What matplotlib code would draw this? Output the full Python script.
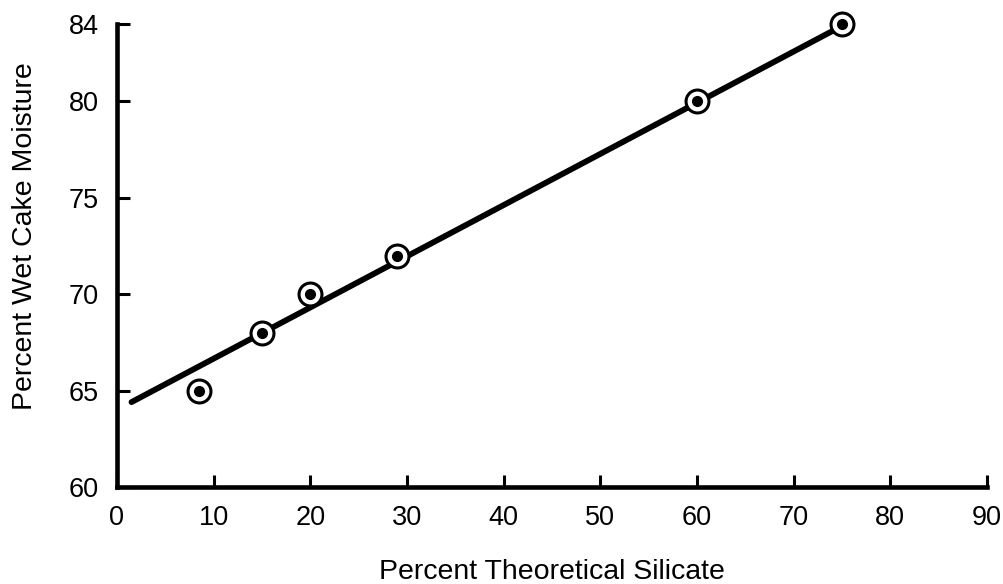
import matplotlib
matplotlib.use("Agg")
import matplotlib.pyplot as plt

# Data
silicate = [8.5, 15, 20, 29, 60, 75]
moisture = [65, 68, 70, 72, 80, 84]
fit_x = [1.5, 75]
fit_y = [64.4, 83.9]
xticks = [0, 10, 20, 30, 40, 50, 60, 70, 80, 90]
yticks = [60, 65, 70, 75, 80, 84]

plt.rcParams['font.family'] = ['Liberation Sans', 'DejaVu Sans']

fig = plt.figure(figsize=(10.04, 5.84), dpi=100)
ax = fig.add_axes([117/1004, 1-487/584, (987-117)/1004, (487-24)/584])

ax.plot(fit_x, fit_y, color='black', lw=4.2, solid_capstyle='round', zorder=2,
        clip_on=False)
ax.plot(silicate, moisture, linestyle='none', marker='o', markersize=16.5,
        markerfacecolor='white', markeredgecolor='black', markeredgewidth=2.2,
        zorder=3, clip_on=False)
ax.plot(silicate, moisture, linestyle='none', marker='o', markersize=7,
        markerfacecolor='black', markeredgecolor='black', zorder=4, clip_on=False)

ax.set_xlim(0, 90)
ax.set_ylim(60, 84)
ax.set_xticks(xticks)
ax.set_yticks(yticks)
for s in ['top', 'right']:
    ax.spines[s].set_visible(False)
for s in ['left', 'bottom']:
    ax.spines[s].set_linewidth(3.3)
ax.tick_params(direction='in', length=9, width=2.2, labelsize=19.5, pad=13)
ax.set_xlabel('Percent Theoretical Silicate', fontsize=20.5, labelpad=20)
ax.set_ylabel('Percent Wet Cake Moisture', fontsize=20.5, labelpad=22)
ax.yaxis.label.set_y(0.542)

fig.savefig('out.png', dpi=100)
